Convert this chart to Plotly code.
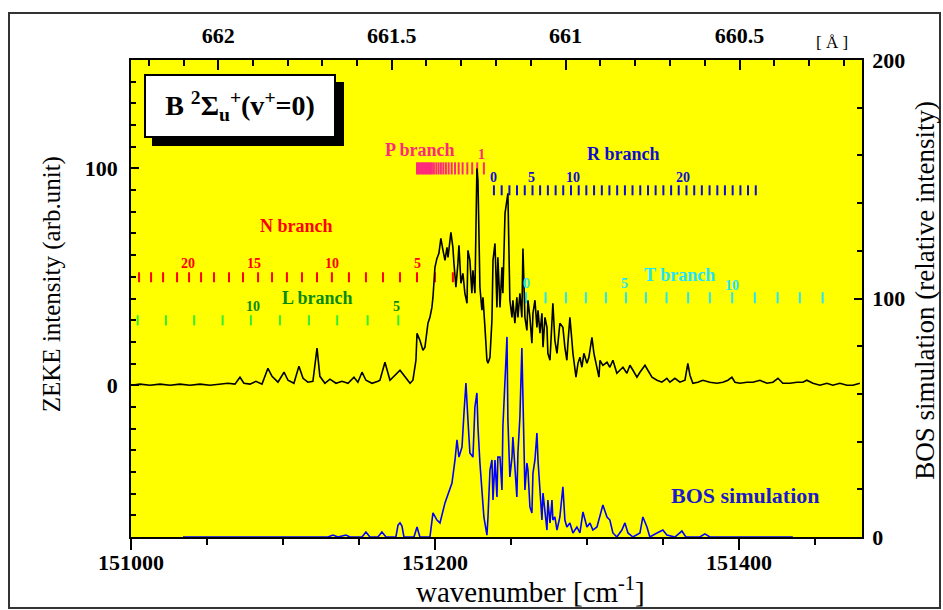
import plotly.graph_objects as go

# ---------------- data ----------------
zeke_wn = [151000.0, 151005.9, 151012.5, 151019.1, 151025.7, 151032.2, 151038.8, 151045.4, 151052.0, 151058.6,
           151063.8, 151068.4, 151071.7, 151074.3, 151078.3, 151082.2, 151086.2, 151090.1, 151092.8, 151096.7,
           151100.7, 151103.3, 151107.2, 151110.5, 151113.2, 151116.4, 151119.7, 151122.4, 151124.3, 151127.6,
           151130.9, 151134.9, 151138.8, 151142.8, 151146.7, 151149.3, 151152.0, 151154.6, 151158.6, 151162.5,
           151163.8, 151167.1, 151170.4, 151177.0, 151183.6, 151185.5, 151187.5, 151188.2, 151190.1, 151192.1,
           151193.4, 151195.4, 151196.7, 151198.0, 151198.7, 151200.0, 151201.3, 151202.6, 151203.9, 151205.3,
           151206.6, 151207.9, 151208.6, 151210.5, 151211.8, 151212.5, 151213.8, 151215.1, 151215.8, 151217.1,
           151218.4, 151219.7, 151221.1, 151221.7, 151223.0, 151224.3, 151225.0, 151226.3, 151227.6, 151228.3,
           151229.6, 151230.9, 151231.6, 151232.9, 151234.2, 151234.9, 151236.2, 151237.5, 151238.2, 151239.5,
           151240.8, 151241.4, 151242.8, 151244.1, 151244.7, 151246.1, 151247.4, 151248.0, 151249.3, 151250.7,
           151251.3, 151252.6, 151253.9, 151254.6, 151255.9, 151257.2, 151257.9, 151259.2, 151260.5, 151261.2,
           151262.5, 151263.8, 151264.5, 151265.8, 151267.1, 151267.8, 151269.1, 151270.4, 151271.1, 151272.4,
           151273.7, 151274.3, 151275.7, 151277.0, 151277.6, 151278.9, 151280.3, 151282.2, 151284.2, 151285.5,
           151286.8, 151287.5, 151288.8, 151290.1, 151290.8, 151292.8, 151294.1, 151295.4, 151296.7, 151298.0,
           151300.0, 151301.3, 151303.3, 151304.6, 151306.6, 151307.9, 151308.6, 151310.5, 151313.2, 151315.1,
           151317.1, 151319.7, 151321.7, 151323.7, 151326.3, 151328.3, 151330.3, 151332.9, 151334.9, 151338.2,
           151340.1, 151342.8, 151346.1, 151349.3, 151352.6, 151354.6, 151357.9, 151361.2, 151364.5, 151366.4,
           151367.8, 151369.7, 151373.0, 151376.3, 151380.9, 151385.5, 151389.5, 151392.8, 151395.4, 151397.4,
           151400.7, 151405.3, 151409.2, 151413.8, 151418.4, 151422.4, 151425.7, 151428.9, 151433.6, 151438.2,
           151442.1, 151444.7, 151448.7, 151453.3, 151457.9, 151461.8, 151466.4, 151471.1, 151475.0, 151479.6]
zeke_int = [0, 0.5, 0, 0.5, 0, 0.5, 0, 0.5, 0, 0.5,
            0.9, 0.5, 3.7, 0.9, 0.5, 1.8, 0.5, 7.8, 4.1, 1.4,
            6.0, 2.3, 0.9, 8.8, 3.2, 1.4, 1.8, 17.1, 4.1, 0.9,
            2.8, 0.9, 1.8, 0.9, 3.7, 1.4, 6.0, 2.3, 0.9, 1.8,
            2.3, 10.6, 2.3, 6.9, 0.9, 2.3, 11.5, 24.0, 20.7, 16.1,
            17.5, 28.6, 31.3, 35.9, 40.6, 54.4, 58.5, 60.8, 67.7, 62.2,
            57.6, 63.6, 59.0, 70.5, 63.6, 56.2, 45.2, 56.2, 64.5, 47.0,
            51.6, 42.4, 37.8, 62.2, 57.6, 42.4, 53.0, 42.4, 100.0, 94.5,
            45.2, 34.6, 40.6, 26.7, 11.5, 10.1, 12.9, 30.0, 57.6, 65.4,
            35.9, 59.0, 35.9, 54.4, 42.4, 79.3, 85.3, 88.5, 39.2, 31.3,
            39.2, 28.6, 40.6, 31.3, 42.4, 31.3, 63.1, 31.3, 25.3, 39.2,
            31.3, 19.4, 33.2, 39.2, 26.7, 34.6, 24.0, 33.2, 17.5, 31.3,
            26.7, 14.7, 11.5, 30.0, 37.8, 20.7, 14.7, 28.6, 26.7, 17.5,
            11.5, 19.4, 31.3, 20.7, 14.7, 3.7, 10.1, 12.9, 8.3, 14.7,
            10.1, 12.9, 22.1, 14.7, 8.3, 3.7, 11.5, 9.2, 10.6, 8.3,
            11.5, 5.5, 6.9, 8.3, 5.5, 9.2, 6.9, 3.7, 6.0, 9.2,
            6.9, 3.7, 2.3, 1.4, 3.2, 1.4, 3.2, 1.4, 2.3, 10.1,
            4.6, 0.9, 1.4, 2.3, 1.4, 0.9, 1.4, 2.3, 3.7, 1.4,
            0.9, 1.4, 1.4, 2.3, 0.9, 1.4, 3.2, 0.9, 0.9, 1.4,
            1.4, 2.3, 0.9, 0, 0.9, 0, 0.9, 0, 0, 0.9]

bos_wn = [151034.2, 151111.2, 151129.6, 151132.9, 151136.2, 151141.4, 151144.1, 151152.0, 151154.6, 151157.2,
          151162.5, 151165.1, 151167.8, 151174.3, 151175.7, 151177.0, 151178.3, 151179.6, 151186.2, 151188.2,
          151190.1, 151196.7, 151198.7, 151201.3, 151203.3, 151206.6, 151208.6, 151211.2, 151213.2, 151214.5,
          151215.8, 151217.8, 151219.1, 151220.4, 151221.7, 151223.0, 151225.0, 151226.3, 151227.6, 151228.3,
          151229.6, 151230.9, 151232.2, 151234.2, 151234.9, 151236.2, 151237.5, 151238.2, 151239.5, 151240.8,
          151241.4, 151242.8, 151244.1, 151244.7, 151246.1, 151247.4, 151248.0, 151249.3, 151250.7, 151251.3,
          151252.6, 151253.9, 151254.6, 151255.9, 151257.2, 151257.9, 151259.2, 151260.5, 151261.2, 151262.5,
          151263.8, 151264.5, 151265.8, 151267.1, 151267.8, 151269.1, 151270.4, 151271.1, 151272.4, 151273.7,
          151274.3, 151275.7, 151277.0, 151277.6, 151278.9, 151280.3, 151282.2, 151284.2, 151285.5, 151286.8,
          151288.8, 151290.8, 151293.4, 151295.4, 151297.4, 151300.0, 151302.0, 151303.9, 151306.6, 151308.6,
          151310.5, 151313.2, 151315.1, 151317.1, 151319.7, 151323.0, 151325.0, 151327.0, 151330.3, 151334.9,
          151336.8, 151339.5, 151341.4, 151346.1, 151350.0, 151352.6, 151357.9, 151362.5, 151365.1, 151374.3,
          151377.6, 151380.9, 151435.5]
bos_int = [0, 0, 0, 0.8, 0, 0.8, 0, 0, 2.1, 0,
           0, 2.1, 0, 0, 5.0, 5.9, 4.6, 0, 0, 4.2,
           0, 0, 10.1, 7.1, 5.9, 14.3, 17.6, 22.6, 32.3, 40.7,
           33.5, 37.7, 52.0, 64.6, 49.1, 35.2, 33.5, 54.5, 60.4, 46.1,
           31.0, 18.4, 8.4, 0.8, 8.4, 28.1, 32.3, 15.5, 32.3, 16.8,
           33.5, 33.5, 19.7, 46.1, 62.9, 83.9, 49.1, 25.2, 33.5, 41.9,
           29.4, 16.8, 35.2, 50.3, 79.2, 53.2, 19.7, 31.0, 28.1, 12.6,
           10.1, 26.8, 32.3, 43.6, 32.3, 19.7, 7.1, 18.4, 11.3, 2.9,
           15.5, 5.9, 15.5, 7.1, 8.4, 2.9, 8.4, 21.0, 7.1, 4.2,
           5.9, 1.7, 4.2, 1.7, 10.5, 4.2, 5.9, 2.9, 4.2, 8.4,
           13.4, 8.4, 7.1, 1.7, 0, 2.9, 5.9, 1.7, 0, 1.7,
           8.4, 4.2, 0, 1.7, 2.9, 0.8, 0, 2.5, 0, 0,
           1.3, 0, 0]

# top axis (wavelength in Angstrom)
wl_major = [662, 661.5, 661, 660.5]
wl_major_text = ["662", "661.5", "661", "660.5"]
wl_minor = [662.2, 662.1, 661.9, 661.8, 661.7, 661.6, 661.4, 661.3, 661.2, 661.1,
            660.9, 660.8, 660.7, 660.6, 660.4, 660.3, 660.2]

# branch line positions (cm-1)
p_branch_wn = [151188.2, 151189.1, 151190.1, 151191.1, 151192.1, 151193.1, 151194.1, 151195.1, 151196.1,
               151197.0, 151198.0, 151199.3, 151200.9, 151202.4, 151203.9, 151205.5, 151207.2, 151209.0,
               151211.0, 151213.2, 151215.6, 151218.2, 151221.3, 151224.5, 151227.8, 151232.2]
r_branch_wn = [151238.8, 151243.9, 151249.0, 151254.0, 151259.1, 151264.2, 151269.2, 151274.3, 151279.4,
               151284.4, 151289.5, 151294.6, 151299.6, 151304.7, 151309.8, 151314.8, 151319.9, 151325.0,
               151330.0, 151335.1, 151340.2, 151345.2, 151350.3, 151355.4, 151360.4, 151365.5, 151370.6,
               151375.6, 151380.7, 151385.8, 151390.8, 151395.9, 151401.0, 151406.0, 151411.1]
n_branch_wn = [151005.3, 151013.2, 151021.1, 151030.3, 151038.2, 151046.1, 151054.6, 151064.5, 151073.7,
               151083.6, 151092.8, 151102.6, 151112.5, 151122.4, 151132.2, 151143.4, 151154.6, 151165.8,
               151177.0, 151188.2, 151200.0, 151211.8]
l_branch_wn = [151004.4, 151023.0, 151041.6, 151060.3, 151078.9, 151098.0, 151117.1, 151135.7, 151155.7,
               151175.9]
t_branch_wn = [151259.9, 151272.8, 151286.2, 151299.3, 151312.5, 151325.7, 151338.8, 151352.4, 151366.6,
               151380.9, 151395.6, 151410.5, 151425.5, 151440.1, 151455.1]

# branch number labels
p_lab_text, p_lab_wn, p_lab_y = ["1"], [151230.9], [106.5]
r_lab_text, r_lab_wn, r_lab_y = ["0", "5", "10", "20"], [151238.2, 151263.2, 151290.8, 151363.2], [95.9] * 4
n_lab_text, n_lab_wn, n_lab_y = ["20", "15", "10", "5"], [151037.5, 151080.9, 151132.2, 151188.2], [56.2] * 4
l_lab_text, l_lab_wn, l_lab_y = ["10", "5"], [151080.3, 151175.0], [36.4] * 2
t_lab_text, t_lab_wn, t_lab_y = ["0", "5", "10"], [151260.5, 151325.0, 151395.4], [47.0, 47.0, 46.1]

# ---------------- figure ----------------
SERIF = "Liberation Serif"
P_COL, R_COL, N_COL = "#ff2a7a", "#0c0cd2", "#ff0000"
L_TICK, L_LAB, T_COL = "#33ee33", "#0a8a0a", "#1ee6ff"

fig = go.Figure()


def branch(xs, y0, y1, color, width=2):
    bx, by = [], []
    for w in xs:
        bx += [w, w, None]
        by += [y0, y1, None]
    fig.add_trace(go.Scatter(x=bx, y=by, mode="lines", xaxis="x", yaxis="y",
                             line=dict(color=color, width=width), hoverinfo="skip", showlegend=False))


branch(p_branch_wn, 97.2, 102.8, P_COL)
branch(r_branch_wn, 87.6, 92.2, R_COL)
branch(n_branch_wn, 47.5, 52.1, N_COL)
branch(l_branch_wn, 27.6, 32.3, L_TICK)
branch(t_branch_wn, 37.8, 42.9, T_COL)

fig.add_trace(go.Scatter(x=bos_wn, y=bos_int, mode="lines", xaxis="x", yaxis="y2",
                         line=dict(color="#0000ff", width=1.6), showlegend=False))
fig.add_trace(go.Scatter(x=zeke_wn, y=zeke_int, mode="lines", xaxis="x2", yaxis="y",
                         line=dict(color="#000000", width=1.6), showlegend=False))

XR = [151000, 151481]
tickfont = dict(family=SERIF, size=22, color="black", weight="bold")

fig.update_layout(
    width=943, height=610,
    margin=dict(l=131, r=81, t=60, b=73),
    paper_bgcolor="white", plot_bgcolor="#ffff00",
    showlegend=False,
    xaxis=dict(range=XR, showgrid=False, zeroline=False, showline=True, linecolor="black", linewidth=1.5,
               tickmode="linear", tick0=151000, dtick=200, ticks="outside", ticklen=11, tickwidth=1.5,
               tickcolor="black", tickfont=tickfont, tickformat="d", ticklabelstandoff=-6,
               minor=dict(tickmode="linear", tick0=151000, dtick=50, ticks="outside", ticklen=6,
                          tickwidth=1.5, tickcolor="black", showgrid=False)),
    xaxis2=dict(range=XR, overlaying="x", side="top", anchor="y", showgrid=False, zeroline=False,
                showline=True, linecolor="black", linewidth=1.5,
                tickmode="array", tickvals=[1e8 / w for w in wl_major], ticktext=wl_major_text,
                ticks="inside", ticklen=10, tickwidth=1.5, tickcolor="black", tickfont=tickfont,
                ticklabelstandoff=6,
                minor=dict(tickmode="array", tickvals=[1e8 / w for w in wl_minor], ticks="inside",
                           ticklen=6, tickwidth=1.5, tickcolor="black", showgrid=False)),
    yaxis=dict(range=[-70, 150], showgrid=False, zeroline=False, showline=True, linecolor="black",
               linewidth=1.5, tickmode="linear", tick0=0, dtick=100, ticks="inside", ticklen=8,
               tickwidth=1.5, tickcolor="black", tickfont=tickfont, ticklabelstandoff=7,
               minor=dict(tickmode="linear", tick0=0, dtick=10, ticks="inside", ticklen=5,
                          tickwidth=1.5, tickcolor="black", showgrid=False)),
    yaxis2=dict(range=[0, 200], overlaying="y", side="right", anchor="x", showgrid=False, zeroline=False,
                showline=True, linecolor="black", linewidth=1.5, tickmode="linear", tick0=0, dtick=100,
                ticks="inside", ticklen=8, tickwidth=1.5, tickcolor="black", tickfont=tickfont,
                ticklabelstandoff=4,
                minor=dict(tickmode="linear", tick0=0, dtick=20, ticks="inside", ticklen=5,
                           tickwidth=1.5, tickcolor="black", showgrid=False)),
)

shapes = [
    # outer frame
    dict(type="rect", xref="paper", yref="paper", x0=-0.1669, x1=1.1067, y0=-0.1488, y1=1.0985,
         line=dict(color="#333333", width=2), fillcolor="rgba(0,0,0,0)", layer="below"),
]
fig.update_layout(shapes=shapes)

ann = []


def label(text, x, y, color, size=18, bold=True, xref="x", yref="y"):
    ann.append(dict(text=text, x=x, y=y, xref=xref, yref=yref, showarrow=False,
                    xanchor="center", yanchor="middle",
                    font=dict(family=SERIF, size=size, color=color, weight="bold" if bold else "normal")))


label("P branch", 151190.1, 108.3, P_COL)
label("R branch", 151324.3, 106.5, R_COL)
label("N branch", 151109.2, 73.3, N_COL)
label("L branch", 151123.0, 40.1, L_LAB)
label("T branch", 151361.2, 50.7, T_COL)
for txts, xs, ys, col in [(p_lab_text, p_lab_wn, p_lab_y, P_COL), (r_lab_text, r_lab_wn, r_lab_y, R_COL),
                          (n_lab_text, n_lab_wn, n_lab_y, N_COL), (l_lab_text, l_lab_wn, l_lab_y, L_LAB),
                          (t_lab_text, t_lab_wn, t_lab_y, T_COL)]:
    for t, x, y in zip(txts, xs, ys):
        label(t, x, y, col, size=14)

label("BOS simulation", 151404.6, 17.6, "#1a1acc", size=22, yref="y2")

# title box: shadow then white box with text
ann.append(dict(text=" ", x=0.160, y=0.8868, xref="paper", yref="paper", showarrow=False,
                xanchor="center", yanchor="middle", width=188, height=60, borderpad=0,
                bgcolor="black", borderwidth=2, bordercolor="black"))
ann.append(dict(text="B <sup>2</sup>Σ<sub>u</sub><sup>+</sup>(v<sup>+</sup>=0)", x=0.1491, y=0.9036,
                xref="paper", yref="paper", showarrow=False, xanchor="center", yanchor="middle",
                width=188, height=60, borderpad=0, bgcolor="white", borderwidth=2, bordercolor="black",
                font=dict(family=SERIF, size=28, color="black", weight="bold")))
# axis titles
ann.append(dict(text="wavenumber [cm<sup>-1</sup>]", x=0.546, y=-0.111, xref="paper", yref="paper",
                xanchor="center", yanchor="middle",
                showarrow=False, font=dict(family=SERIF, size=29, color="black")))
ann.append(dict(text="ZEKE intensity (arb.unit)", x=-0.108, y=0.530, xref="paper", yref="paper",
                xanchor="center", yanchor="middle",
                textangle=-90, showarrow=False, font=dict(family=SERIF, size=25, color="black")))
ann.append(dict(text="BOS simulation (relative intensity)", x=1.086, y=0.518, xref="paper", yref="paper",
                xanchor="center", yanchor="middle",
                textangle=-90, showarrow=False, font=dict(family=SERIF, size=27, color="black")))
ann.append(dict(text="[ Å ]", x=0.959, y=1.0377, xref="paper", yref="paper", showarrow=False,
                xanchor="center", yanchor="middle",
                font=dict(family=SERIF, size=17, color="black")))
fig.update_layout(annotations=ann)

fig.write_html("out.html")
